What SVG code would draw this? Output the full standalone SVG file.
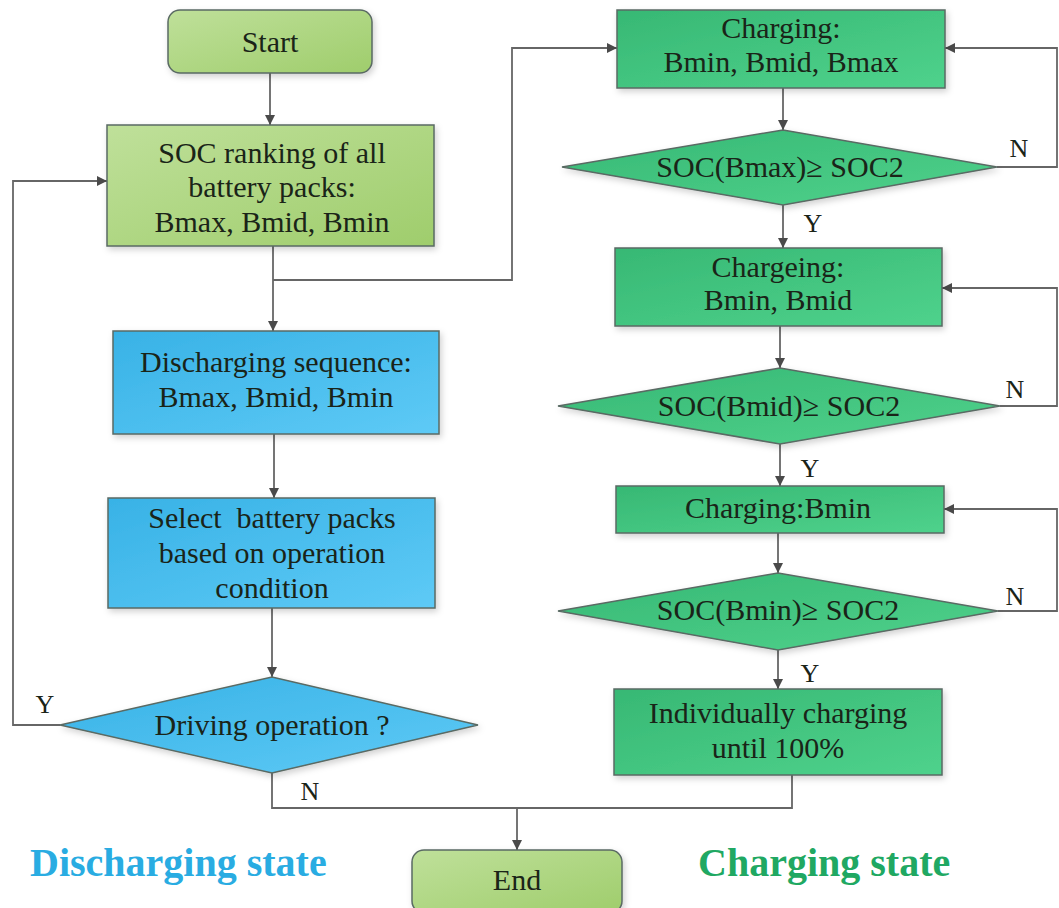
<svg xmlns="http://www.w3.org/2000/svg" width="1059" height="908" viewBox="0 0 1059 908">
<defs>
<linearGradient id="gLight" x1="0" y1="0" x2="1" y2="1"><stop offset="0" stop-color="#bfe09a"/><stop offset="1" stop-color="#9fcd6c"/></linearGradient>
<linearGradient id="gBlue" x1="0" y1="0" x2="1" y2="1"><stop offset="0" stop-color="#38b2e6"/><stop offset="1" stop-color="#5ecaf6"/></linearGradient>
<linearGradient id="gGreen" x1="0" y1="0" x2="1" y2="1"><stop offset="0" stop-color="#37b874"/><stop offset="1" stop-color="#4fd28c"/></linearGradient>
<filter id="sh" x="-10%" y="-10%" width="120%" height="130%"><feDropShadow dx="2" dy="3" stdDeviation="3" flood-color="#000" flood-opacity="0.18"/></filter>
<marker id="arr" viewBox="0 0 10 10" refX="10" refY="5" markerWidth="10" markerHeight="10" markerUnits="userSpaceOnUse" orient="auto"><path d="M0,0 L10,5 L0,10 z" fill="#4a4a4a"/></marker>
</defs>
<style>
.n{stroke:#5a6a64;stroke-width:1.5;filter:url(#sh)}
.lt{fill:url(#gLight)}
.bl{fill:url(#gBlue)}
.gr{fill:url(#gGreen)}
text{font-family:"Liberation Serif","Times New Roman",serif;font-size:30px;fill:#1a2418;text-anchor:middle}
.c{fill:none;stroke:#666;stroke-width:1.8}
.ca{fill:none;stroke:#666;stroke-width:1.8;marker-end:url(#arr)}
.lbl{font-size:26px}
.big{font-size:40px;font-weight:bold;text-anchor:start}
.pre{white-space:pre}
</style>
<rect width="1059" height="908" fill="#fff"/>

<g id="connectors">
<path class="ca" d="M270,73 V125"/>
<path class="c" d="M273,246 V280"/>
<path class="ca" d="M273,280 V331"/>
<path class="ca" d="M273,280 H512 V48 H617"/>
<path class="ca" d="M274,434 V498"/>
<path class="ca" d="M272,608 V677"/>
<path class="ca" d="M60,725 H13 V181 H107"/>
<path class="c" d="M272,773 V808 H792 V775"/>
<path class="ca" d="M517,808 V850"/>
<path class="ca" d="M783,88 V130"/>
<path class="ca" d="M997,167 H1057 V48 H945"/>
<path class="ca" d="M783,205 V248"/>
<path class="ca" d="M780,326 V368"/>
<path class="ca" d="M1000,406 H1057 V288 H942"/>
<path class="ca" d="M780,444 V486"/>
<path class="ca" d="M778,533 V573"/>
<path class="ca" d="M998,611 H1057 V509 H944"/>
<path class="ca" d="M778,650 V689"/>
</g>

<g id="start"><rect class="n lt" x="168" y="10" width="204" height="63" rx="12"/><text x="270" y="52">Start</text></g>
<g id="soc-ranking"><rect class="n lt" x="107" y="125" width="327" height="121"/>
<text x="272" y="163">SOC ranking of all</text><text x="272" y="197">battery packs:</text><text x="272" y="232">Bmax, Bmid, Bmin</text></g>
<g id="discharging-seq"><rect class="n bl" x="113" y="331" width="326" height="103"/>
<text x="276" y="372">Discharging sequence:</text><text x="276" y="407">Bmax, Bmid, Bmin</text></g>
<g id="select"><rect class="n bl" x="108" y="498" width="327" height="110"/>
<text class="pre" x="272" y="528" xml:space="preserve">Select  battery packs</text><text x="272" y="563">based on operation</text><text x="272" y="598">condition</text></g>
<g id="driving"><polygon class="n bl" points="60,725 272,677 478,725 272,773"/><text x="272" y="735">Driving operation ?</text></g>
<g id="end"><rect class="n lt" x="412" y="850" width="210" height="63" rx="12"/><text x="517" y="890">End</text></g>

<g id="charging1"><rect class="n gr" x="617" y="10" width="328" height="78"/>
<text x="781" y="38">Charging:</text><text x="781" y="72">Bmin, Bmid, Bmax</text></g>
<g id="dec-bmax"><polygon class="n gr" points="562,167 783,130 997,167 783,205"/><text x="780" y="177">SOC(Bmax)≥ SOC2</text></g>
<g id="charging2"><rect class="n gr" x="615" y="248" width="327" height="78"/>
<text x="778" y="277">Chargeing:</text><text x="778" y="310">Bmin, Bmid</text></g>
<g id="dec-bmid"><polygon class="n gr" points="558,406 780,368 1000,406 780,444"/><text x="779" y="416">SOC(Bmid)≥ SOC2</text></g>
<g id="charging3"><rect class="n gr" x="616" y="486" width="328" height="47"/>
<text x="778" y="518">Charging:Bmin</text></g>
<g id="dec-bmin"><polygon class="n gr" points="558,611 778,573 998,611 778,650"/><text x="778" y="620">SOC(Bmin)≥ SOC2</text></g>
<g id="individual"><rect class="n gr" x="614" y="689" width="328" height="86"/>
<text x="778" y="723">Individually charging</text><text x="778" y="758">until 100%</text></g>

<g id="labels">
<text class="lbl" x="45" y="713">Y</text>
<text class="lbl" x="310" y="800">N</text>
<text class="lbl" x="1019" y="157">N</text>
<text class="lbl" x="1015" y="398">N</text>
<text class="lbl" x="1015" y="605">N</text>
<text class="lbl" x="813" y="232">Y</text>
<text class="lbl" x="810" y="477">Y</text>
<text class="lbl" x="810" y="682">Y</text>
<text class="big" x="30" y="876" style="fill:#29ace2">Discharging state</text>
<text class="big" x="698" y="876" style="fill:#20a862">Charging state</text>
</g>
</svg>
